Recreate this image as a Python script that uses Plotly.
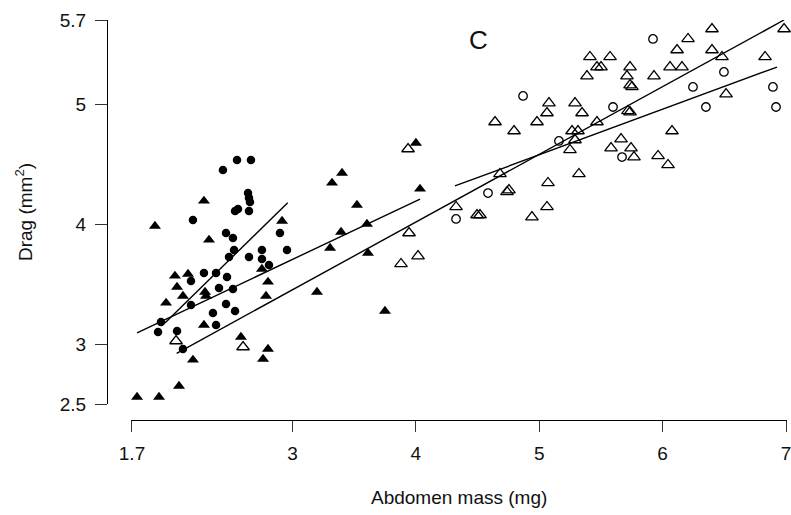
import plotly.graph_objects as go

# ---- data (Abdomen mass in mg, Drag in mm^2) ----
fc_mass = [2.437, 2.551, 2.664, 2.640, 2.648, 2.656, 2.535, 2.559, 2.648, 2.194, 2.462, 2.518,
           2.899, 2.956, 2.527, 2.486, 2.648, 2.753, 2.753, 2.810, 2.283, 2.381, 2.470, 2.178,
           2.405, 2.518, 2.178, 2.462, 2.535, 2.356, 1.935, 2.381, 1.911, 2.065, 2.113]
fc_drag = [4.450, 4.533, 4.533, 4.258, 4.217, 4.183, 4.108, 4.125, 4.108, 4.033, 3.925, 3.883,
           3.925, 3.783, 3.783, 3.725, 3.725, 3.783, 3.708, 3.658, 3.592, 3.592, 3.558, 3.525,
           3.467, 3.458, 3.325, 3.333, 3.275, 3.258, 3.183, 3.158, 3.100, 3.108, 2.958]

ft_mass = [2.283, 1.886, 2.916, 2.324, 2.048, 2.154, 2.065, 2.113, 2.292, 2.300, 1.976, 2.753,
           2.802, 2.786, 2.283, 2.583, 2.802, 2.762, 2.194, 2.081, 1.741, 1.919, 3.199, 4.001,
           3.402, 3.321, 4.034, 3.523, 3.604, 3.394, 3.305, 3.612, 3.750]
ft_drag = [4.192, 3.983, 4.025, 3.867, 3.567, 3.583, 3.475, 3.400, 3.433, 3.400, 3.342, 3.625,
           3.517, 3.400, 3.158, 3.058, 2.958, 2.875, 2.867, 2.650, 2.558, 2.558, 3.433, 4.675,
           4.425, 4.342, 4.292, 4.158, 4.000, 3.933, 3.800, 3.758, 3.275]

oc_mass = [4.869, 5.160, 4.585, 4.326, 5.922, 6.497, 6.246, 6.894, 5.598, 6.351, 6.919, 5.671]
oc_drag = [5.067, 4.692, 4.258, 4.042, 5.542, 5.267, 5.142, 5.142, 4.975, 4.975, 4.975, 4.558]

ot_mass = [2.057, 2.600, 3.937, 3.945, 4.018, 3.880, 4.326, 4.496, 4.520, 5.079, 5.290, 5.063,
           5.347, 4.642, 4.982, 4.796, 5.468, 5.266, 5.314, 5.290, 5.249, 4.682, 5.322, 5.071,
           4.739, 4.755, 5.063, 4.941, 6.133, 6.400, 6.984, 6.206, 6.117, 6.400, 6.481, 6.830,
           5.411, 5.574, 5.468, 5.501, 5.736, 6.060, 6.157, 5.387, 5.711, 5.930, 5.736, 5.752,
           6.514, 5.719, 5.736, 6.076, 5.663, 5.582, 5.744, 5.768, 5.963, 6.044]
ot_drag = [3.025, 2.975, 4.625, 3.925, 3.733, 3.667, 4.142, 4.075, 4.075, 5.008, 5.008, 4.925,
           4.925, 4.850, 4.850, 4.775, 4.850, 4.775, 4.775, 4.700, 4.617, 4.417, 4.417, 4.342,
           4.267, 4.283, 4.142, 4.058, 5.717, 5.625, 5.625, 5.542, 5.450, 5.450, 5.392, 5.392,
           5.392, 5.392, 5.308, 5.308, 5.308, 5.308, 5.308, 5.233, 5.233, 5.233, 5.158, 5.142,
           5.083, 4.942, 4.933, 4.775, 4.708, 4.633, 4.633, 4.558, 4.567, 4.492]

# regression lines: (x start, x end), (y start, y end)
fit_fc_x = [1.967, 2.962]; fit_fc_y = [3.175, 4.178]
fit_ft_x = [1.741, 4.034]; fit_ft_y = [3.092, 4.208]
fit_ot_x = [2.062, 6.984]; fit_ot_y = [2.922, 5.700]
fit_oc_x = [4.317, 6.927]; fit_oc_y = [4.317, 5.308]

x_ticks = [1.7, 3, 4, 5, 6, 7]
y_ticks = [2.5, 3, 4, 5, 5.7]

W, H = 791, 515
FONT = "Liberation Sans, Arial, sans-serif"
TXT = "#111"

# pixel geometry of the axes (R-style detached axes)
PX_PER_X = 123.4
X0_PX = 132          # pixel of x = 1.7
EPS = 0.006
x_range = [x_ticks[0] - EPS, x_ticks[-1] + EPS]
x_dom = [(X0_PX - EPS * PX_PER_X) / W, (X0_PX + (x_ticks[-1] - x_ticks[0] + EPS) * PX_PER_X) / W]

fig = go.Figure()

for fx, fy in [(fit_fc_x, fit_fc_y), (fit_ft_x, fit_ft_y), (fit_ot_x, fit_ot_y), (fit_oc_x, fit_oc_y)]:
    fig.add_trace(go.Scatter(x=fx, y=fy, mode="lines", line=dict(color="black", width=1.4),
                             cliponaxis=False, showlegend=False, hoverinfo="skip"))

fig.add_trace(go.Scatter(x=fc_mass, y=fc_drag, mode="markers", cliponaxis=False, showlegend=False,
                         marker=dict(symbol="circle", size=8.5, color="black", line=dict(width=0))))
fig.add_trace(go.Scatter(x=ft_mass, y=ft_drag, mode="markers", cliponaxis=False, showlegend=False,
                         marker=dict(symbol="triangle-up", size=10.5, color="black", line=dict(width=0))))
fig.add_trace(go.Scatter(x=oc_mass, y=oc_drag, mode="markers", cliponaxis=False, showlegend=False,
                         marker=dict(symbol="circle-open", size=8.5, color="black", line=dict(width=1.3))))
fig.add_trace(go.Scatter(x=ot_mass, y=ot_drag, mode="markers", cliponaxis=False, showlegend=False,
                         marker=dict(symbol="triangle-up-open", size=11, color="black", line=dict(width=1.3))))

fig.update_layout(
    width=W, height=H,
    margin=dict(l=0, r=0, t=0, b=0),
    paper_bgcolor="white", plot_bgcolor="white",
    template="none",
    font=dict(family=FONT, size=19, color=TXT),
    xaxis=dict(domain=x_dom, range=x_range, anchor="free", position=1 - 420 / H,
               showline=True, linecolor="black", linewidth=1.3, ticks="outside", ticklen=11,
               tickwidth=1.1, tickcolor="#333", tickvals=x_ticks, ticktext=[str(v) for v in x_ticks],
               showgrid=False, zeroline=False, tickfont=dict(size=19, family=FONT, color=TXT),
               ticklabelstandoff=5, ticklabeloverflow="allow"),
    yaxis=dict(domain=[1 - 404 / H, 1 - 20 / H], range=[2.5, 5.7], anchor="free", position=107 / W,
               showline=True, linecolor="black", linewidth=1.3, ticks="outside", ticklen=12,
               tickwidth=1.1, tickcolor="#333", tickvals=y_ticks, ticktext=[str(v) for v in y_ticks],
               showgrid=False, zeroline=False, tickfont=dict(size=19, family=FONT, color=TXT),
               ticklabelstandoff=5, ticklabeloverflow="allow"),
    annotations=[
        dict(text="Abdomen mass (mg)", x=459 / W, y=1 - 497 / H, xref="paper", yref="paper",
             showarrow=False, xanchor="center", yanchor="middle", font=dict(size=19, family=FONT, color=TXT)),
        dict(text="Drag (mm<sup>2</sup>)", x=24 / W, y=1 - 212 / H, xref="paper", yref="paper",
             showarrow=False, textangle=-90, xanchor="center", yanchor="middle",
             font=dict(size=19, family=FONT, color=TXT)),
        dict(text="C", x=478 / W, y=1 - 40 / H, xref="paper", yref="paper", showarrow=False,
             xanchor="center", yanchor="middle", font=dict(size=26, family=FONT, color=TXT)),
    ],
)

fig.write_html("out.html")
